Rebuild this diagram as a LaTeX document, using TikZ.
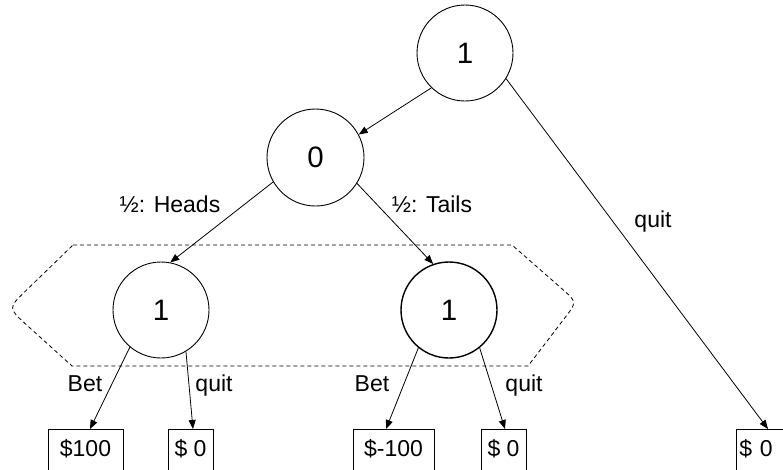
\documentclass[tikz,border=0pt]{standalone}
\usepackage{fontspec}
\setmainfont{Liberation Sans}
\usetikzlibrary{arrows.meta}
\begin{document}
\begin{tikzpicture}[x=1pt,y=-1pt,
  state/.style={circle,draw,line width=0.9pt,minimum size=96pt,inner sep=0pt,font=\fontsize{29.5}{34}\selectfont},
  payoff/.style={draw,line width=0.9pt,anchor=north,text height=16pt,text depth=6pt,inner ysep=11pt,inner xsep=0pt,font=\fontsize{23}{27}\selectfont},
  lbl/.style={anchor=base,font=\fontsize{23}{27}\selectfont,inner sep=0pt},
  arr/.style={line width=0.8pt,-{Triangle[length=9pt,width=7pt]}},
  info/.style={dash pattern=on 4pt off 3pt,line width=0.8pt}]
\useasboundingbox (0,0) rectangle (783,469);
% information set
\draw[info] (73,245) -- (512,245) -- (562,288.8) .. controls (577,302) .. (564.8,317.9)
  -- (528,366) -- (72,366) -- (26.5,324.8) .. controls (8,308) .. (26,290.6) -- cycle;
% decision nodes
\node (top) [state] at (465,53) {1};
\node (n0) [state,minimum size=97pt] at (315.5,157.5) {0};
\node (L1) [state] at (161,310) {1};
\node (R1) [state,line width=1.4pt] at (449,310) {1};
% payoffs
\node (b100) [payoff,minimum width=75pt] at (85.5,429) {\$100};
\node (b0a) [payoff,minimum width=45pt] at (190.5,429) {\$ 0};
\node (bm100) [payoff,minimum width=81pt] at (393.5,429) {\$-100};
\node (b0b) [payoff,minimum width=45pt] at (503.5,429) {\$ 0};
\node (b0c) [payoff,anchor=north west,text width=54pt,align=left,inner xsep=3pt] at (736,429) {\$ 0};
% connectors
\draw[arr] (top.226) -- (n0.28);
\draw[arr] (top.-32) -- ([xshift=32pt]b0c.north west);
\draw[arr] (n0.210) -- (L1.79);
\draw[arr] (n0.-32) -- (R1.109);
\draw[arr] (L1.230) -- ([xshift=4.5pt]b100.north);
\draw[arr] (L1.301) -- ([xshift=2.5pt]b0a.north);
\draw[arr] (R1.231) -- ([xshift=-7.5pt]bm100.north);
\draw[arr] (R1.309) -- ([xshift=1.5pt]b0b.north);
% labels
\node (lh) [lbl] at (170,212) {½: Heads};
\node (lt) [lbl] at (432,212) {½: Tails};
\node (lq) [lbl] at (653,227) {quit};
\node (lb1) [lbl] at (85,391) {Bet};
\node (lq1) [lbl] at (214,391) {quit};
\node (lb2) [lbl] at (372,391) {Bet};
\node (lq2) [lbl] at (524,391) {quit};
\end{tikzpicture}
\end{document}
